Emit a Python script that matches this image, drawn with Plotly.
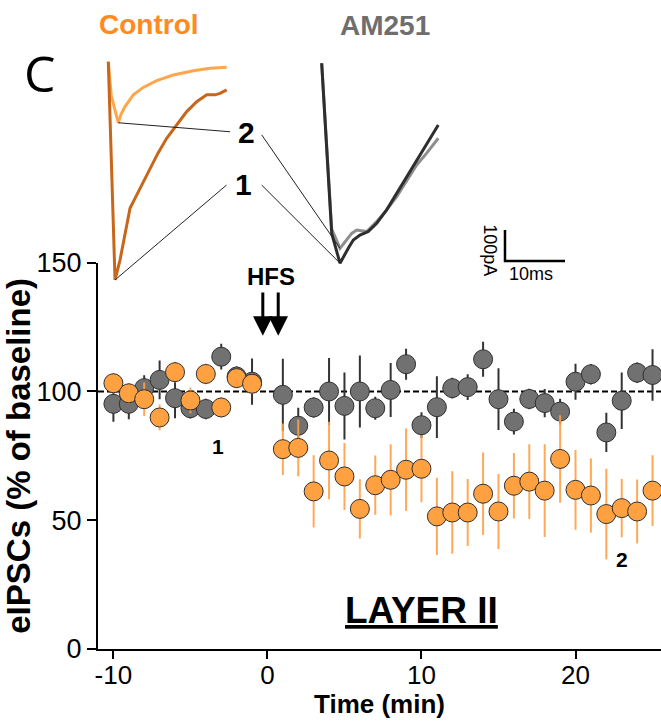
import plotly.graph_objects as go

# ---------------- data: time course ----------------
time_min = [-10, -9, -8, -7, -6, -5, -4, -3, -2, -1,
            1, 2, 3, 4, 5, 6, 7, 8, 9, 10,
            11, 12, 13, 14, 15, 16, 17, 18, 19, 20,
            21, 22, 23, 24, 25]

control_mean = [103.2, 99.3, 97.0, 89.9, 107.5, 96.5, 106.8, 93.8, 105.2, 103.0,
                77.6, 78.1, 61.2, 73.2, 67.0, 54.4, 63.6, 65.7, 69.6, 70.0,
                51.5, 53.0, 53.0, 60.3, 53.4, 63.4, 65.0, 61.5, 73.8, 61.8,
                59.6, 52.4, 54.7, 53.4, 61.5]
control_sem = [4, 4, 6.5, 5, 4, 5, 4, 4, 4, 4,
               10, 11, 14, 15, 13, 11.5, 11.5, 13.8, 16, 13,
               15, 16, 13, 16, 14.6, 12.7, 14.5, 18, 17, 15.5,
               14.4, 17.6, 11.3, 12.4, 13.7]

am251_mean = [95.2, 95.2, 101.3, 104.5, 97.4, 93.5, 93.2, 113.5, 105.8, 103.8,
              98.7, 86.7, 93.8, 100.0, 94.4, 100.0, 93.5, 100.6, 110.6, 86.9,
              93.9, 101.3, 101.7, 112.5, 97.0, 88.3, 97.1, 95.5, 92.2, 103.8,
              106.7, 84.1, 96.4, 107.3, 106.4]
am251_sem = [7, 6, 5, 7.5, 7.8, 4, 4, 5, 4, 9,
             14, 7, 4, 13, 13, 14, 4.5, 10.5, 6, 5,
             12, 4, 5, 6.8, 12, 5, 4, 5.5, 5, 7,
             4, 7.6, 11, 4, 10]

baseline_pct = 100
hfs_times = [-0.3, 0.7]
x_ticks = [-10, 0, 10, 20]
x_tick_labels = ["-10", "0", "10", "20"]
y_ticks = [0, 50, 100, 150]

# ---------------- data: example traces (ms, pA) ----------------
ctrl1_t = [0, 1.12, 1.95, 2.78, 3.62, 4.45, 5.57, 6.95, 8.28, 9.73, 11.4,
           13.07, 14.73, 16.4, 17.78, 18.62, 19.73]
ctrl1_i = [0, -704, -640, -554, -473, -441, -398, -344, -295, -247, -204,
           -161, -129, -107, -107, -102, -91]
ctrl2_t = [0, 0.5, 1.67, 2.07, 2.78, 4.17, 5.83, 8.07, 10.83, 14.17, 16.95, 19.73]
ctrl2_i = [0, -110, -197, -172, -145, -107, -83, -61, -43, -29, -21, -18]

am1_t = [0, 1.67, 3.05, 3.6, 4.43, 5.27, 6.38, 7.77, 9.17, 10.83, 12.5,
         14.17, 15.83, 17.5, 19.43]
am1_i = [-5, -554, -650, -629, -602, -575, -559, -548, -521, -478, -425,
         -371, -317, -263, -204]
am2_t = [0, 1.67, 3.05, 3.88, 5.0, 5.83, 6.67, 7.5, 9.17, 10.83, 12.5,
         14.17, 15.83, 17.5, 19.43]
am2_i = [-5, -540, -602, -581, -554, -543, -545, -548, -516, -478, -435,
         -382, -333, -295, -247]

scale_ms = 10
scale_pa = 100

# ---------------- styles ----------------
FONT = "Liberation Sans, Arial, sans-serif"
ORANGE_FILL = "#FFA140"
ORANGE_BAR = "rgba(255,160,70,0.9)"
GRAY_FILL = "#717171"
EDGE = "#303030"
CTRL_DARK = "#C8661A"
CTRL_LIGHT = "#FFA64C"
AM_DARK = "#2E2E2E"
AM_LIGHT = "#8E8E8E"

fig = go.Figure()

# AM251 time course
fig.add_trace(go.Scatter(
    x=time_min, y=am251_mean, mode="markers", name="AM251",
    marker=dict(size=19, color=GRAY_FILL, line=dict(color=EDGE, width=1)),
    error_y=dict(type="data", array=am251_sem, visible=True, color="#333333",
                 thickness=2, width=0),
    showlegend=False))
# Control time course
fig.add_trace(go.Scatter(
    x=time_min, y=control_mean, mode="markers", name="Control",
    marker=dict(size=19, color=ORANGE_FILL, line=dict(color=EDGE, width=1)),
    error_y=dict(type="data", array=control_sem, visible=True, color=ORANGE_BAR,
                 thickness=2, width=0),
    showlegend=False))

# ---- example traces in inset axes ----
def tr(x, y, color, xa, w=3):
    fig.add_trace(go.Scatter(x=x, y=y, mode="lines", xaxis=xa, yaxis="y2",
                             line=dict(color=color, width=w), showlegend=False,
                             hoverinfo="skip"))

tr(ctrl2_t, ctrl2_i, CTRL_LIGHT, "x2")
tr(ctrl1_t, ctrl1_i, CTRL_DARK, "x2")
tr(am2_t, am2_i, AM_LIGHT, "x3")
tr(am1_t, am1_i, AM_DARK, "x3")

# connectors from labels "1"/"2" to trace minima
def argmin(ts, vs):
    k = min(range(len(vs)), key=lambda j: vs[j])
    return ts[k], vs[k]

lab2_left = (20.3, -226)   # x2 coords, label 2 left side
lab1_left = (19.7, -398)
lab2_right = (-10.0, -236)  # x3 coords, label 2 right side
lab1_right = (-10.0, -398)

for (lx, ly), (tx, ty), xa in [
        (lab2_left, argmin(ctrl2_t, ctrl2_i), "x2"),
        (lab1_left, argmin(ctrl1_t, ctrl1_i), "x2"),
        (lab2_right, argmin(am2_t, am2_i), "x3"),
        (lab1_right, argmin(am1_t, am1_i), "x3")]:
    fig.add_trace(go.Scatter(x=[lx, tx], y=[ly, ty], mode="lines", xaxis=xa,
                             yaxis="y2", line=dict(color="#222222", width=1),
                             showlegend=False, hoverinfo="skip"))

# scale bar
sb_t0, sb_i0 = 30.55, -643
fig.add_trace(go.Scatter(x=[sb_t0, sb_t0, sb_t0 + scale_ms],
                         y=[sb_i0 + scale_pa, sb_i0, sb_i0], mode="lines",
                         xaxis="x3", yaxis="y2",
                         line=dict(color="black", width=2.5),
                         showlegend=False, hoverinfo="skip"))

def ann(text, xref, yref, x, y, size, color="black", family=FONT, **kw):
    d = dict(text=text, xref=xref, yref=yref, x=x, y=y, showarrow=False,
             xanchor="center", yanchor="middle",
             font=dict(family=family, size=size, color=color))
    d.update(kw)
    return d

annotations = [
    ann("C", "paper", "paper", -0.103, 0.888, 50,
        family="Open Sans, DejaVu Sans"),
    ann("<b>Control</b>", "paper", "paper", 0.090, 0.9615, 28, color="#FF8A1E"),
    ann("<b>AM251</b>", "paper", "paper", 0.5098, 0.9607, 28, color="#6E6E6E"),
    ann("<b>2</b>", "x2", "y2", 23.1, -230, 30),
    ann("<b>1</b>", "x2", "y2", 22.6, -395, 30),
    ann("100pA", "x3", "y2", 28.05, -608, 18, textangle=90),
    ann("10ms", "x3", "y2", 34.9, -685, 18),
    ann("<b>HFS</b>", "x", "y", 0.25, 144.5, 24),
    ann("<b>1</b>", "x", "y", -3.2, 78.6, 21),
    ann("<b>2</b>", "x", "y", 23.0, 34.7, 21),
    ann("<b><u>LAYER II</u></b>", "x", "y", 10.0, 15, 37),
    # x-axis title
    ann("<b>Time (min)</b>", "paper", "paper", 0.5, -0.0855, 26),
]
for t in hfs_times:
    annotations.append(dict(text="", xref="x", yref="y", x=t, y=121.6,
                            axref="x", ayref="y", ax=t, ay=139,
                            showarrow=True, arrowhead=2, arrowsize=1.3,
                            arrowwidth=3, arrowcolor="black"))

fig.update_layout(
    width=661, height=723,
    margin=dict(l=98, r=0, t=0, b=74, autoexpand=False),
    paper_bgcolor="white", plot_bgcolor="rgba(0,0,0,0)",
    font=dict(family=FONT, color="black"),
    xaxis=dict(range=[-11, 25.55], domain=[0, 1], tickvals=x_ticks,
               ticktext=x_tick_labels,
               automargin=False,
               showline=True, linecolor="black", linewidth=2,
               ticks="outside", ticklen=8, tickwidth=2, tickcolor="black",
               ticklabelstandoff=-6,
               showgrid=False, zeroline=False,
               tickfont=dict(family=FONT, size=26, color="black")),
    yaxis=dict(range=[0, 150], domain=[0, 0.5952], tickvals=y_ticks,
               automargin=False,
               showline=True, linecolor="black", linewidth=2,
               ticks="outside", ticklen=9, tickwidth=2, tickcolor="black",
               showgrid=False, zeroline=False,
               tickfont=dict(family=FONT, size=27, color="black"),
               title=dict(text="<b>eIPSCs (% of baseline)</b>", standoff=2,
                          font=dict(family=FONT, size=33, color="black"))),
    xaxis2=dict(range=[-1.717, 92.12], domain=[0, 1], anchor="y2",
                visible=False, automargin=False),
    xaxis3=dict(range=[-37.28, 56.55], domain=[0, 1], anchor="y2",
                visible=False, automargin=False),
    yaxis2=dict(range=[-1894.5, 199.0], domain=[0, 1], anchor="x2",
                visible=False, automargin=False),
    shapes=[dict(type="line", xref="x domain", x0=0, x1=1, yref="y",
                 y0=baseline_pct, y1=baseline_pct, layer="below",
                 line=dict(color="black", width=2, dash="6px,3px"))],
    annotations=annotations,
    showlegend=False,
)

fig.write_html("out.html", config={"displayModeBar": False},
               post_script="document.body.style.margin='0';")
